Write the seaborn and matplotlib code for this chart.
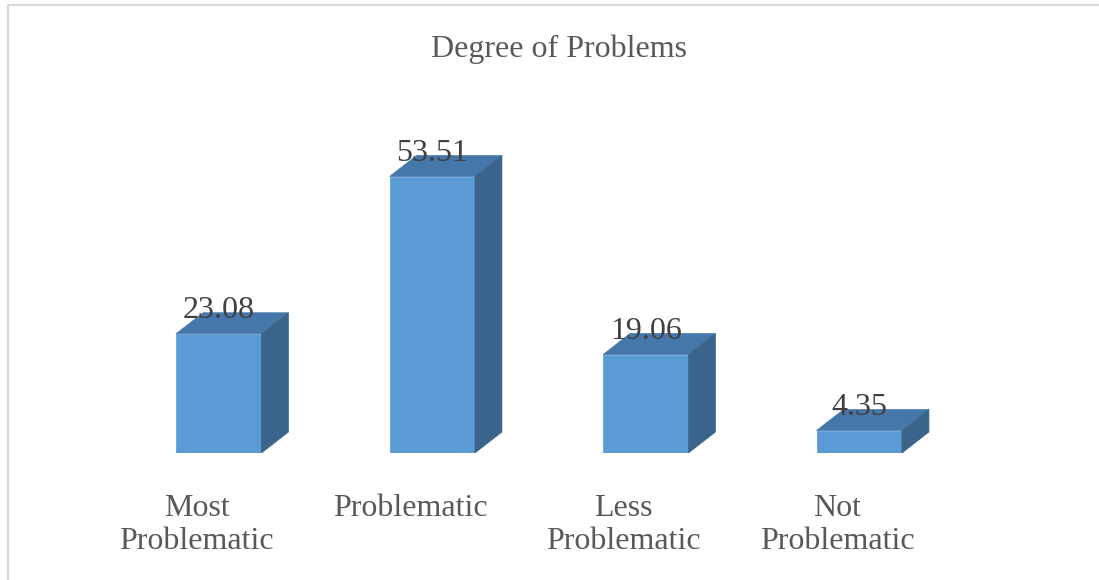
import matplotlib
matplotlib.use("Agg")
import matplotlib.pyplot as plt
import matplotlib.transforms as mtransforms
from matplotlib.patches import Polygon, Rectangle
import seaborn as sns
import pandas as pd

categories = ["Most\nProblematic", "Problematic", "Less\nProblematic", "Not\nProblematic"]
values = [23.08, 53.51, 19.06, 4.35]
value_labels = ["23.08", "53.51", "19.06", "4.35"]
title = "Degree of Problems"

sns.set_theme(style="white")
plt.rcParams["font.family"] = ["Liberation Serif", "DejaVu Serif"]

FRONT = "#5B9BD5"
TOP = "#4677AA"
SIDE = "#3A6489"

fig = plt.figure(figsize=(10.99, 5.8), dpi=100)
ax = fig.add_axes([112 / 1099, 127 / 580, 854 / 1099, 310 / 580])

df = pd.DataFrame({"category": categories, "value": values})
sns.barplot(data=df, x="category", y="value", color=FRONT, saturation=1,
            width=0.4, ax=ax, zorder=3)
ax.set_xlim(-0.5, 3.5)
ax.set_ylim(0, 60)
ax.set_xlabel("")
ax.set_ylabel("")
ax.set_xticks([])
ax.set_yticks([])
for s in ax.spines.values():
    s.set_visible(False)
ax.patch.set_alpha(0)

# depth of the extruded faces, in pixels
fig.canvas.draw()
dx_px, dy_px = 27, 21
inv = ax.transData.inverted()
for patch, lab in zip(ax.patches, value_labels):
    x0, y0 = patch.get_x(), patch.get_y()
    w, h = patch.get_width(), patch.get_height()
    patch.set_edgecolor(FRONT)
    patch.set_linewidth(0.5)
    p_lr = ax.transData.transform((x0 + w, y0))
    p_ul = ax.transData.transform((x0, y0 + h))
    p_ur = ax.transData.transform((x0 + w, y0 + h))
    sh = lambda p: (p[0] + dx_px, p[1] + dy_px)
    top = [p_ul, p_ur, sh(p_ur), sh(p_ul)]
    side = [p_lr, sh(p_lr), sh(p_ur), p_ur]
    ax.add_patch(Polygon([inv.transform(p) for p in top], closed=True,
                         facecolor=TOP, edgecolor=TOP, lw=0.5, zorder=3))
    ax.add_patch(Polygon([inv.transform(p) for p in side], closed=True,
                         facecolor=SIDE, edgecolor=SIDE, lw=0.5, zorder=3))
    off = mtransforms.offset_copy(ax.transData, fig=fig, x=0, y=16, units="dots")
    ax.text(x0 + w / 2, y0 + h, lab, transform=off, ha="center", va="baseline",
            fontsize=23, color="#404040", zorder=5)

# category labels
for i, cat in enumerate(categories):
    off = mtransforms.offset_copy(ax.transData, fig=fig, x=-22, y=-41, units="dots")
    ax.text(i, 0, cat, transform=off, ha="center", va="top", fontsize=23,
            color="#595959", linespacing=1.2, multialignment="center")

fig.text(559 / 1099, (580 - 57) / 580, title, ha="center", va="baseline",
         fontsize=23, color="#595959")

# chart frame
fig.patches.append(Rectangle((8 / 1099, -0.1), 1.2, (580 - 5) / 580 + 0.1,
                             transform=fig.transFigure, fill=False,
                             edgecolor="#D9D9D9", lw=1.5))

fig.savefig("out.png", dpi=100)
